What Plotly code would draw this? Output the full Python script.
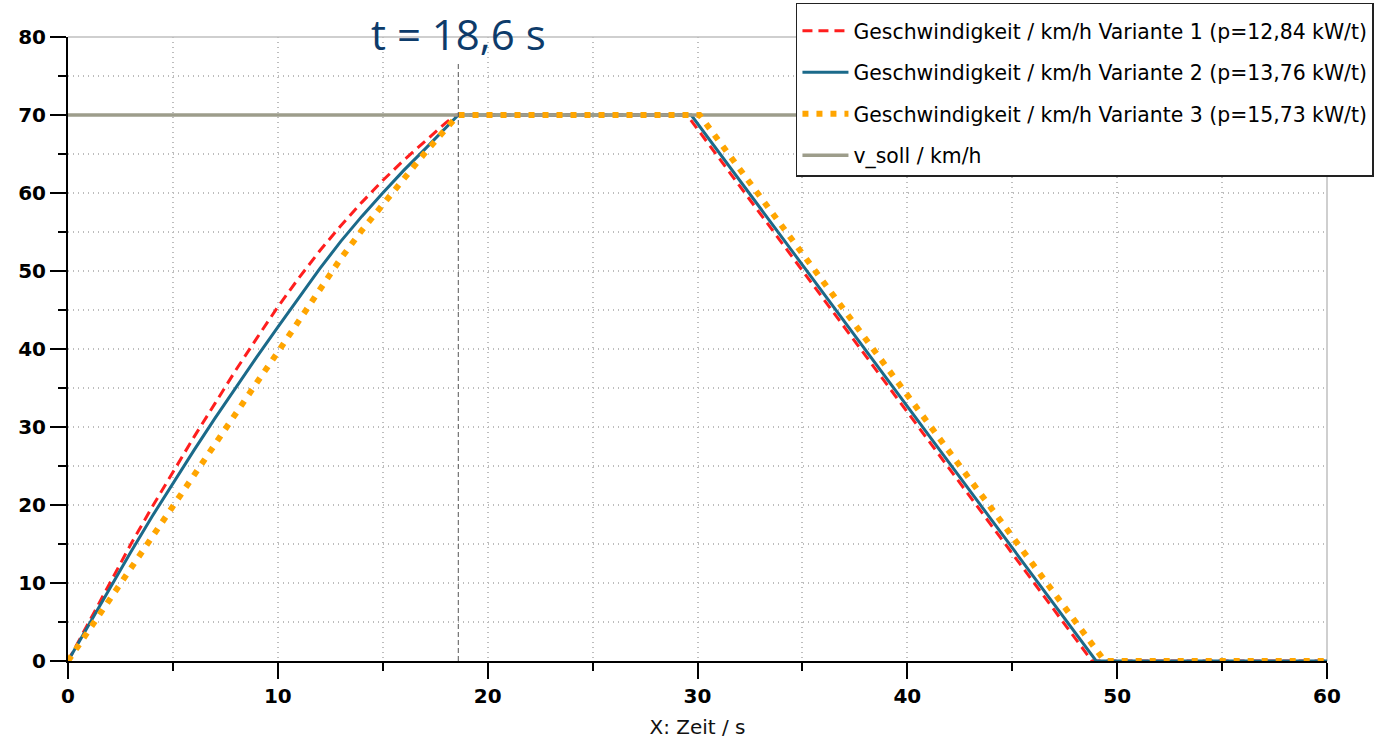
import plotly.graph_objects as go

# ---------------- data ----------------
t_v1 = [0, 1, 2, 3, 4, 5, 6, 7, 8, 9, 10, 11, 12, 13, 14, 15, 16, 17, 18, 18.5, 29.5, 48.8, 60]
v_v1 = [0, 5.0, 10.1, 15.0, 19.7, 24.2, 28.7, 33.0, 37.3, 41.4, 45.4, 49.1, 52.6, 55.8, 58.8, 61.6, 64.2, 66.6, 69.0, 70, 70, 0, 0]

t_v2 = [0, 1, 2, 3, 4, 5, 6, 7, 8, 9, 10, 11, 12, 13, 14, 15, 16, 17, 18, 18.6, 29.7, 49.0, 60]
v_v2 = [0, 4.7, 9.4, 14.0, 18.5, 22.8, 27.0, 31.1, 35.1, 39.0, 42.8, 46.6, 50.3, 53.8, 57.0, 60.0, 62.9, 65.6, 68.3, 70, 70, 0, 0]

t_v3 = [0, 1, 2, 3, 4, 5, 6, 7, 8, 9, 10, 11, 12, 13, 14, 15, 16, 17, 18, 18.6, 30.1, 49.4, 60]
v_v3 = [0, 4.0, 8.0, 12.0, 16.0, 20.0, 23.9, 27.9, 31.8, 35.7, 39.6, 43.6, 47.7, 51.6, 55.2, 58.6, 61.9, 65.1, 68.2, 70, 70, 0, 0]

t_soll = [0, 60]
v_soll = [70, 70]

t_mark = 18.6
mark_label = "t = 18,6 s"

names = [
    "Geschwindigkeit / km/h Variante 1 (p=12,84 kW/t)",
    "Geschwindigkeit / km/h Variante 2 (p=13,76 kW/t)",
    "Geschwindigkeit / km/h Variante 3 (p=15,73 kW/t)",
    "v_soll / km/h",
]

x_ticks = [0, 10, 20, 30, 40, 50, 60]
y_ticks = [0, 10, 20, 30, 40, 50, 60, 70, 80]

# ---------------- figure ----------------
fig = go.Figure()
fig.add_trace(go.Scatter(x=t_v1, y=v_v1, mode="lines", name=names[0], legendrank=1,
                         legendgroup="a",
                         line=dict(color="#ff1e1e", width=3, dash="10px,6px")))
fig.add_trace(go.Scatter(x=t_v2, y=v_v2, mode="lines", name=names[1], legendrank=2,
                         legendgroup="b",
                         line=dict(color="#1b6a8a", width=3)))
fig.add_trace(go.Scatter(x=t_soll, y=v_soll, mode="lines", name=names[3], legendrank=4,
                         legendgroup="d",
                         line=dict(color="#9d9d8b", width=3.5)))
fig.add_trace(go.Scatter(x=t_v3, y=v_v3, mode="lines", name=names[2], legendrank=3,
                         legendgroup="c",
                         line=dict(color="#ffa500", width=6, dash="6px,8px")))

axis_font = dict(family="DejaVu Sans", size=20, color="black", weight="bold")
grid = dict(gridcolor="#bdbdbd", griddash="1px,4px", gridwidth=1.5)

fig.update_xaxes(
    range=[0, 60], tickvals=x_ticks, ticks="outside", ticklen=16, tickwidth=2,
    tickcolor="black", showline=True, linecolor="black", linewidth=2,
    tickfont=axis_font, showgrid=True, zeroline=False, layer="below traces",
    automargin=False,
    minor=dict(dtick=5, ticks="outside", ticklen=8, tickwidth=2, tickcolor="black",
               showgrid=True, **grid),
    title=dict(text="X: Zeit / s", font=dict(family="DejaVu Sans", size=20, color="#111"),
               standoff=13),
    **grid,
)
fig.update_yaxes(
    range=[0, 80], tickvals=y_ticks, ticks="outside", ticklen=16, tickwidth=2,
    tickcolor="black", showline=True, linecolor="black", linewidth=2,
    tickfont=axis_font, showgrid=True, zeroline=False, layer="below traces",
    automargin=False,
    minor=dict(dtick=5, ticks="outside", ticklen=8, tickwidth=2, tickcolor="black",
               showgrid=True, **grid),
    **grid,
)

# frame top / right (light grey)
fig.add_shape(type="line", xref="paper", yref="paper", x0=0, x1=1, y0=1, y1=1,
              line=dict(color="#cfcfcf", width=2), layer="below")
fig.add_shape(type="line", xref="paper", yref="paper", x0=1, x1=1, y0=0, y1=1,
              line=dict(color="#cfcfcf", width=2), layer="below")

# marker line
fig.add_shape(type="line", xref="x", yref="paper", x0=t_mark, x1=t_mark, y0=0, y1=0.96,
              line=dict(color="#555555", width=1, dash="5px,3px"), layer="above")
fig.add_annotation(x=t_mark, xref="x", y=1.006, yref="paper", text=mark_label,
                   showarrow=False, yanchor="middle", xanchor="center",
                   font=dict(family="Open Sans", size=42, color="#0d3b6a"))

fig.update_layout(
    width=1378, height=740,
    margin=dict(l=68, r=51, t=37, b=79, autoexpand=False),
    paper_bgcolor="white", plot_bgcolor="white",
    font=dict(family="DejaVu Sans", color="black"),
    legend=dict(x=0.5782, xanchor="left", y=1.0545, yanchor="top",
                bgcolor="white", bordercolor="#222222", borderwidth=1.5,
                font=dict(family="DejaVu Sans", size=20.4, color="black"),
                itemwidth=46,
                title=dict(text=" ", font=dict(size=5)),
                traceorder="grouped", tracegroupgap=12),
    showlegend=True,
)

fig.write_html("out.html",
               config={"displayModeBar": False},
               post_script="document.body.style.margin='0px';"
                           "document.body.style.overflow='hidden';")
